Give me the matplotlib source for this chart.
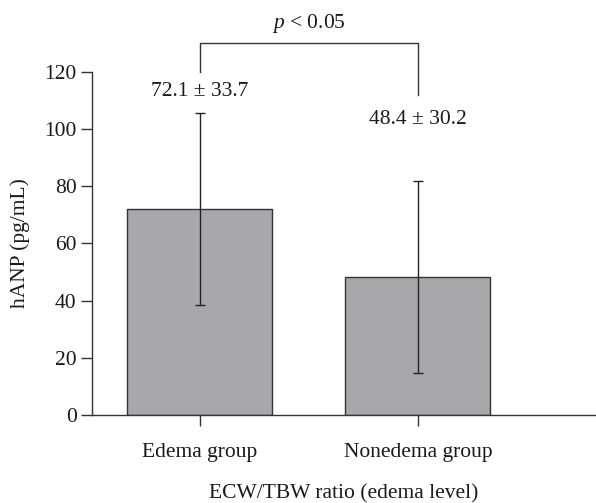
import matplotlib
matplotlib.use('Agg')
import matplotlib.pyplot as plt

groups = ['Edema group', 'Nonedema group']
means = [72.1, 48.4]
errors = [33.5, 33.6]
value_labels = ['72.1 ± 33.7', '48.4 ± 30.2']
y_ticks = [0, 20, 40, 60, 80, 100, 120]

plt.rcParams['font.family'] = ['Liberation Serif', 'DejaVu Serif']
plt.rcParams['mathtext.fontset'] = 'custom'
plt.rcParams['mathtext.rm'] = 'Liberation Serif'
plt.rcParams['mathtext.it'] = 'Liberation Serif:italic'
fs = 15.5

fig = plt.figure(figsize=(5.96, 5.03), dpi=100)
ax = fig.add_axes([0.154, 0.175, 0.846, 0.682])

x = [0, 1]
ax.bar(x, means, width=0.665, color='#a7a8ab', edgecolor='#333333',
       linewidth=1.0, zorder=2)
ax.errorbar(x, means, yerr=errors, fmt='none', ecolor='#222222',
            elinewidth=1.0, capsize=3.6, capthick=1.0, zorder=3)

ax.set_xlim(-0.495, 1.817)
ax.set_ylim(0, 120)
ax.set_yticks(y_ticks)
ax.set_xticks(x)
ax.set_xticklabels(groups)
ax.tick_params(axis='both', direction='out', length=8, width=1.0,
               color='#333333', labelsize=fs, labelcolor='#1a1a1a')
ax.tick_params(axis='x', pad=12)
ax.tick_params(axis='y', pad=3)
for side in ['top', 'right']:
    ax.spines[side].set_visible(False)
for side in ['left', 'bottom']:
    ax.spines[side].set_linewidth(1.0)
    ax.spines[side].set_color('#333333')

ax.set_ylabel('hANP (pg/mL)', fontsize=fs, color='#1a1a1a', labelpad=10)
ax.set_xlabel('ECW/TBW ratio (edema level)', fontsize=fs, color='#1a1a1a',
              labelpad=16)

# value labels above bars
ax.text(x[0], 113.0, value_labels[0], ha='center', va='center',
        fontsize=fs, color='#1a1a1a')
ax.text(x[1], 103.5, value_labels[1], ha='center', va='center',
        fontsize=fs, color='#1a1a1a')

# significance bracket
ax.plot([x[0], x[0], x[1], x[1]], [120, 130, 130, 112], color='#333333',
        linewidth=1.0, clip_on=False)
ax.text(0.5, 137, r'$\mathit{p}$ < 0.05', ha='center', va='center',
        fontsize=fs, color='#1a1a1a')

fig.savefig('out.png', dpi=100)
